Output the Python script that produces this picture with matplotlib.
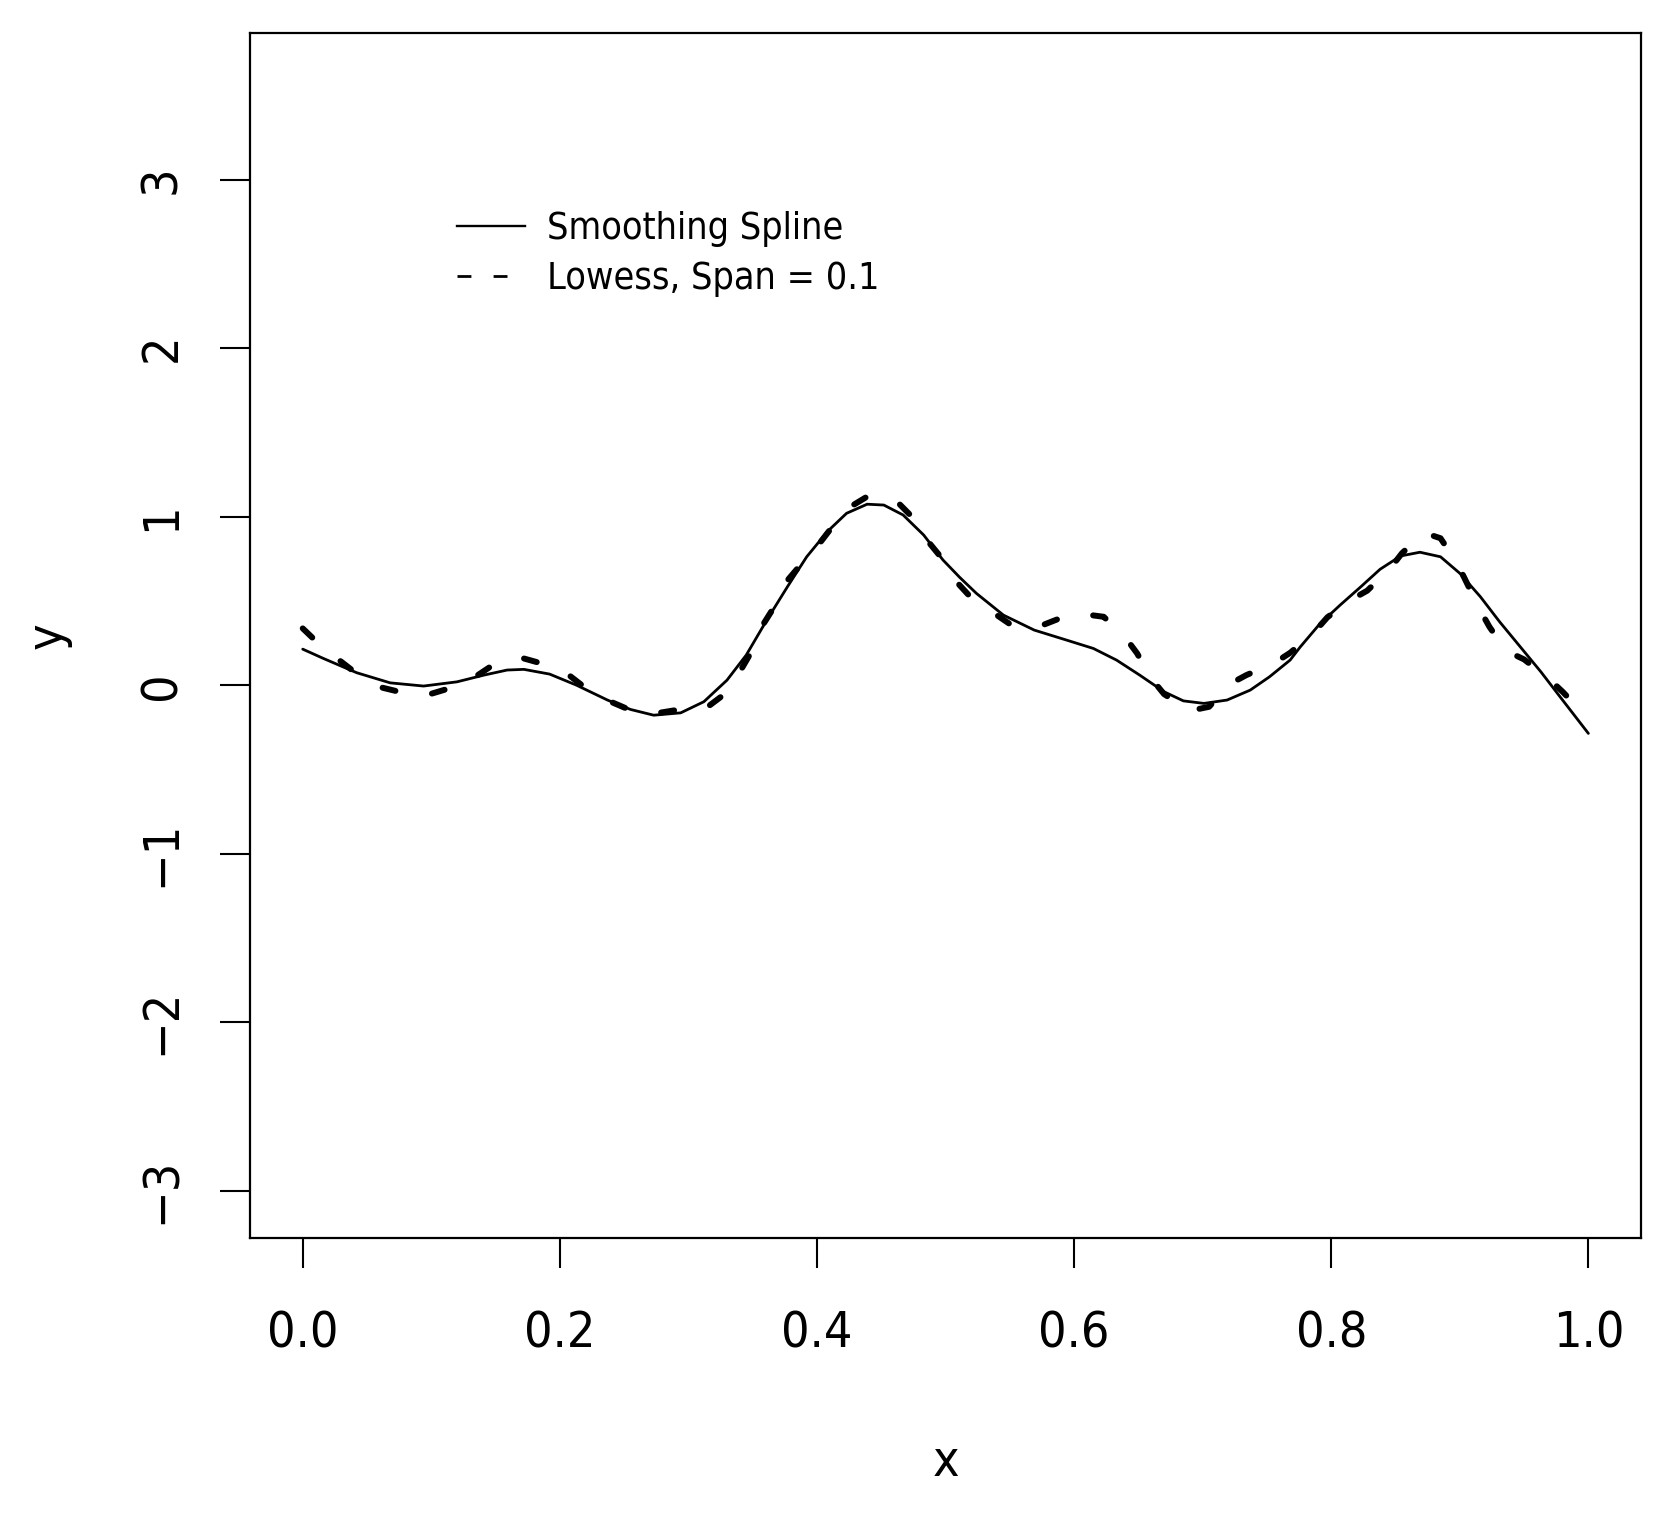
import matplotlib
matplotlib.use("Agg")
import matplotlib.pyplot as plt
from matplotlib import font_manager as fm
from matplotlib.lines import Line2D

# ---- data ----
spline_x = [0.000, 0.016, 0.042, 0.068, 0.094, 0.120, 0.141, 0.159, 0.172, 0.192,
            0.213, 0.237, 0.255, 0.273, 0.294, 0.312, 0.330, 0.345, 0.361, 0.377,
            0.392, 0.408, 0.423, 0.439, 0.452, 0.467, 0.483, 0.498, 0.511, 0.524,
            0.545, 0.569, 0.594, 0.615, 0.633, 0.651, 0.670, 0.685, 0.701, 0.719,
            0.737, 0.752, 0.768, 0.776, 0.791, 0.807, 0.823, 0.838, 0.854, 0.869,
            0.885, 0.900, 0.916, 0.931, 0.947, 0.963, 0.978, 1.000]
spline_y = [0.214, 0.159, 0.074, 0.014, -0.005, 0.020, 0.060, 0.090, 0.094, 0.066,
            0.000, -0.088, -0.144, -0.178, -0.164, -0.098, 0.030, 0.179, 0.387, 0.584,
            0.762, 0.911, 1.020, 1.074, 1.069, 1.010, 0.891, 0.743, 0.640, 0.545,
            0.416, 0.327, 0.268, 0.218, 0.149, 0.060, -0.039, -0.093, -0.108, -0.088,
            -0.029, 0.050, 0.149, 0.228, 0.363, 0.476, 0.584, 0.688, 0.767, 0.789,
            0.762, 0.664, 0.525, 0.376, 0.228, 0.080, -0.069, -0.286]

lowess_x = [0.000, 0.010, 0.029, 0.040, 0.061, 0.075, 0.099, 0.113, 0.135, 0.147,
            0.169, 0.184, 0.206, 0.218, 0.238, 0.253, 0.274, 0.290, 0.314, 0.326,
            0.340, 0.348, 0.357, 0.366, 0.375, 0.386, 0.401, 0.411, 0.426, 0.439,
            0.461, 0.472, 0.485, 0.495, 0.507, 0.518, 0.536, 0.550, 0.571, 0.587,
            0.607, 0.623, 0.639, 0.649, 0.660, 0.670, 0.690, 0.705, 0.721, 0.734,
            0.756, 0.768, 0.786, 0.797, 0.815, 0.828, 0.846, 0.855, 0.872, 0.885,
            0.898, 0.905, 0.915, 0.923, 0.936, 0.950, 0.969, 0.980, 0.996, 1.000]
lowess_y = [0.337, 0.264, 0.145, 0.080, -0.013, -0.039, -0.053, -0.021, 0.054, 0.115,
            0.165, 0.133, 0.066, -0.005, -0.093, -0.142, -0.168, -0.148, -0.134, -0.065,
            0.080, 0.185, 0.347, 0.456, 0.604, 0.703, 0.832, 0.931, 1.059, 1.119,
            1.099, 1.014, 0.866, 0.773, 0.626, 0.535, 0.436, 0.363, 0.343, 0.391,
            0.422, 0.406, 0.292, 0.189, 0.040, -0.053, -0.152, -0.128, 0.007, 0.060,
            0.133, 0.192, 0.308, 0.403, 0.505, 0.561, 0.694, 0.783, 0.905, 0.872,
            0.723, 0.614, 0.456, 0.347, 0.204, 0.153, 0.040, -0.039, -0.167, -0.200]

x_ticks = [0.0, 0.2, 0.4, 0.6, 0.8, 1.0]
x_tick_labels = ["0.0", "0.2", "0.4", "0.6", "0.8", "1.0"]
y_ticks = [-3, -2, -1, 0, 1, 2, 3]
y_tick_labels = ["\u22123", "\u22122", "\u22121", "0", "1", "2", "3"]
legend_labels = ["Smoothing Spline", "Lowess, Span = 0.1"]

# ---- font ----
stretch = "normal"
try:
    p = fm.findfont(fm.FontProperties(family="DejaVu Sans", stretch="condensed"),
                    fallback_to_default=False)
    if "Condensed" in p:
        stretch = "condensed"
except Exception:
    pass
plt.rcParams["font.family"] = ["DejaVu Sans"]
plt.rcParams["font.stretch"] = stretch
plt.rcParams["lines.scale_dashes"] = False

tick_fs = 36 if stretch == "condensed" else 33
leg_fs = 27 if stretch == "condensed" else 25

fig = plt.figure(figsize=(16.59, 15.35), dpi=100)
ax = fig.add_axes([0.1507, 0.1935, 0.9892 - 0.1507, 0.9785 - 0.1935])

ax.plot(spline_x, spline_y, color="black", lw=2.0, solid_capstyle="round",
        solid_joinstyle="round")
ax.plot(lowess_x, lowess_y, color="black", lw=4.3, dashes=(9.5, 26.5),
        dash_capstyle="round", dash_joinstyle="round")

ax.set_xlim(-0.041, 1.041)
ax.set_ylim(-3.28, 3.87)

for s in ax.spines.values():
    s.set_linewidth(1.6)

ax.set_xticks(x_ticks)
ax.set_xticklabels(x_tick_labels)
ax.set_yticks(y_ticks)
ax.set_yticklabels(y_tick_labels, rotation=90, va="center")
ax.tick_params(axis="both", direction="out", length=21.6, width=1.5,
               labelsize=tick_fs)
ax.tick_params(axis="x", pad=30)
ax.tick_params(axis="y", pad=25)

ax.set_xlabel("x", fontsize=tick_fs, labelpad=58)
ax.set_ylabel("y", fontsize=tick_fs, labelpad=47)

handles = [Line2D([], [], color="black", lw=1.7),
           Line2D([], [], color="black", lw=2.0, dashes=(10, 16))]
ax.legend(handles, legend_labels, loc="upper left", bbox_to_anchor=(0.149, 0.8525),
          frameon=False, fontsize=leg_fs, handlelength=1.8, handletextpad=0.6,
          labelspacing=0.38, borderpad=0, borderaxespad=0)

fig.savefig("out.png", dpi=100)
